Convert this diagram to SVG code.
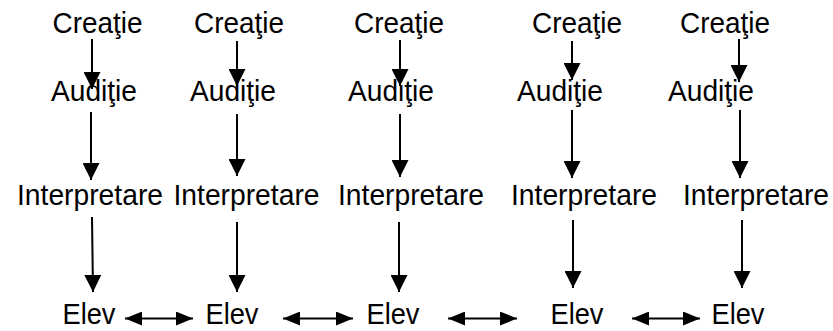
<svg xmlns="http://www.w3.org/2000/svg" width="833" height="331" viewBox="0 0 833 331">
  <style>
    text { font-family: "Liberation Sans", Arial, sans-serif; font-size: 29px; fill: #000; text-anchor: middle; }
    .arrow { stroke: #000; stroke-width: 2; fill: none; marker-end: url(#head); }
    .link { stroke: #000; stroke-width: 2; fill: none; marker-start: url(#hhead); marker-end: url(#hhead); }
  </style>
  <defs>
    <marker id="head" viewBox="0 0 17 17" refX="17" refY="8.5" markerWidth="17" markerHeight="17" markerUnits="userSpaceOnUse" orient="auto">
      <path d="M0,0 L17,8.5 L0,17 Z" fill="#000"/>
    </marker>
    <marker id="hhead" viewBox="0 0 17 14" refX="17" refY="7" markerWidth="17" markerHeight="14" markerUnits="userSpaceOnUse" orient="auto-start-reverse">
      <path d="M0,0 L17,7 L0,14 Z" fill="#000"/>
    </marker>
  </defs>

  <rect width="833" height="331" fill="#fff"/>

  <!-- column 1 -->
  <g id="creatie-1"><text x="97.5" y="33" textLength="90" lengthAdjust="spacingAndGlyphs">Creaţie</text></g>
  <g id="auditie-1"><text x="94" y="101" textLength="86" lengthAdjust="spacingAndGlyphs">Audiţie</text></g>
  <g id="interpretare-1"><text x="90" y="205" textLength="146" lengthAdjust="spacingAndGlyphs">Interpretare</text></g>
  <g id="elev-1"><text x="89" y="324" textLength="53" lengthAdjust="spacingAndGlyphs">Elev</text></g>

  <!-- column 2 -->
  <g id="creatie-2"><text x="239" y="33" textLength="90" lengthAdjust="spacingAndGlyphs">Creaţie</text></g>
  <g id="auditie-2"><text x="233" y="101" textLength="86" lengthAdjust="spacingAndGlyphs">Audiţie</text></g>
  <g id="interpretare-2"><text x="246.5" y="205" textLength="146" lengthAdjust="spacingAndGlyphs">Interpretare</text></g>
  <g id="elev-2"><text x="232" y="324" textLength="53" lengthAdjust="spacingAndGlyphs">Elev</text></g>

  <!-- column 3 -->
  <g id="creatie-3"><text x="399" y="33" textLength="90" lengthAdjust="spacingAndGlyphs">Creaţie</text></g>
  <g id="auditie-3"><text x="391" y="101" textLength="86" lengthAdjust="spacingAndGlyphs">Audiţie</text></g>
  <g id="interpretare-3"><text x="411" y="205" textLength="146" lengthAdjust="spacingAndGlyphs">Interpretare</text></g>
  <g id="elev-3"><text x="393" y="324" textLength="53" lengthAdjust="spacingAndGlyphs">Elev</text></g>

  <!-- column 4 -->
  <g id="creatie-4"><text x="577" y="33" textLength="90" lengthAdjust="spacingAndGlyphs">Creaţie</text></g>
  <g id="auditie-4"><text x="560" y="101" textLength="86" lengthAdjust="spacingAndGlyphs">Audiţie</text></g>
  <g id="interpretare-4"><text x="584" y="205" textLength="146" lengthAdjust="spacingAndGlyphs">Interpretare</text></g>
  <g id="elev-4"><text x="577" y="324" textLength="53" lengthAdjust="spacingAndGlyphs">Elev</text></g>

  <!-- column 5 -->
  <g id="creatie-5"><text x="725" y="33" textLength="90" lengthAdjust="spacingAndGlyphs">Creaţie</text></g>
  <g id="auditie-5"><text x="711" y="101" textLength="86" lengthAdjust="spacingAndGlyphs">Audiţie</text></g>
  <g id="interpretare-5"><text x="756" y="205" textLength="146" lengthAdjust="spacingAndGlyphs">Interpretare</text></g>
  <g id="elev-5"><text x="738" y="324" textLength="53" lengthAdjust="spacingAndGlyphs">Elev</text></g>

  <g id="connectors">
    <!-- Creaţie to Audiţie -->
    <line class="arrow" x1="92" y1="39" x2="92" y2="89"/>
    <line class="arrow" x1="237" y1="41" x2="237" y2="86"/>
    <line class="arrow" x1="400" y1="40" x2="400" y2="86"/>
    <line class="arrow" x1="572" y1="41" x2="572" y2="80"/>
    <line class="arrow" x1="739" y1="39" x2="739" y2="82"/>
    <!-- Audiţie to Interpretare -->
    <line class="arrow" x1="91" y1="112" x2="91" y2="180"/>
    <line class="arrow" x1="237" y1="114" x2="237" y2="176"/>
    <line class="arrow" x1="400" y1="114" x2="400" y2="177"/>
    <line class="arrow" x1="572" y1="110" x2="572" y2="178"/>
    <line class="arrow" x1="740" y1="110" x2="740" y2="178"/>
    <!-- Interpretare to Elev -->
    <line class="arrow" x1="92" y1="217" x2="93" y2="292"/>
    <line class="arrow" x1="237" y1="222" x2="237" y2="292"/>
    <line class="arrow" x1="399" y1="222" x2="399" y2="292"/>
    <line class="arrow" x1="573" y1="220" x2="573" y2="288"/>
    <line class="arrow" x1="742" y1="220" x2="742" y2="288"/>
    <!-- Elev to Elev -->
    <line class="link" x1="125" y1="318.5" x2="193" y2="318.5"/>
    <line class="link" x1="283" y1="318.5" x2="353" y2="318.5"/>
    <line class="link" x1="448" y1="318.5" x2="517" y2="318.5"/>
    <line class="link" x1="632" y1="318.5" x2="700" y2="318.5"/>
  </g>
</svg>
